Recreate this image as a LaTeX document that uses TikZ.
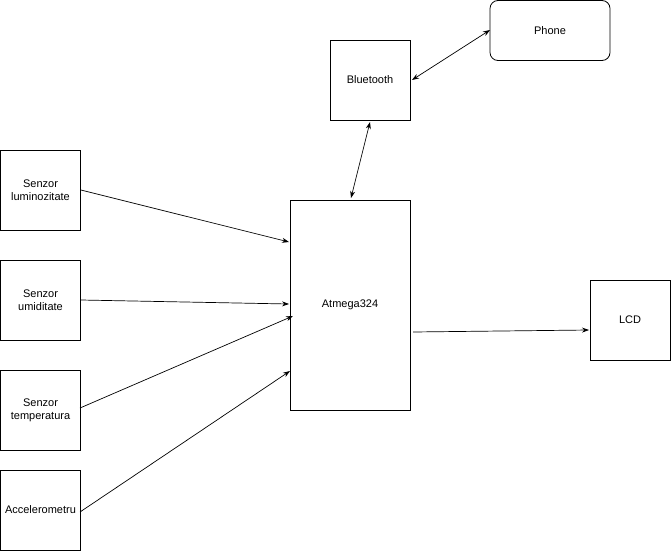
\documentclass[tikz,border=0pt]{standalone}
\usepackage{fontspec}
\setmainfont{Liberation Sans}
\usetikzlibrary{arrows.meta}
\begin{document}
\begin{tikzpicture}[x=1pt,y=-1pt,
  box/.style={draw,line width=0.8pt,inner sep=0pt,align=center,font=\fontsize{11}{13}\selectfont},
  arr/.style={line width=0.7pt,-{Stealth[length=7pt,width=5pt]}},
  darr/.style={line width=0.7pt,{Stealth[length=7pt,width=5pt]}-{Stealth[length=7pt,width=5pt]}}]
\useasboundingbox (0,0) rectangle (671,551);
\node[box,rounded corners=8pt,minimum width=120pt,minimum height=60pt] (ph) at (550,30.5) {Phone};
\node[box,minimum width=80pt,minimum height=80pt] (bt) at (370,80) {Bluetooth};
\node[box,minimum width=80pt,minimum height=80pt] (s1) at (40.5,190) {Senzor\\luminozitate};
\node[box,minimum width=80pt,minimum height=80pt] (s2) at (40.5,300) {Senzor\\umiditate};
\node[box,minimum width=80pt,minimum height=80pt] (s3) at (40.5,410) {Senzor\\temperatura};
\node[box,minimum width=80pt,minimum height=80pt] (s4) at (40.5,510) {Accelerometru};
\node[box,minimum width=120pt,minimum height=210pt] (at) at (350,305) {Atmega324};
\node[box,minimum width=80pt,minimum height=80pt] (lcd) at (630,320) {LCD};
\coordinate (a1) at (412,80); \coordinate (a2) at (490,30);
\draw[darr] (a1) -- (a2);
\coordinate (b1) at (351,198); \coordinate (b2) at (370,122);
\draw[darr] (b1) -- (b2);
\draw[arr] (s1.east) -- (289,242);
\draw[arr] (s2.east) -- (289,304);
\draw[arr] (80,408) -- (293,316);
\draw[arr] (80,512) -- (290,371);
\coordinate (c1) at (413,332);
\draw[arr] (c1) -- (589,330);
\end{tikzpicture}
\end{document}
